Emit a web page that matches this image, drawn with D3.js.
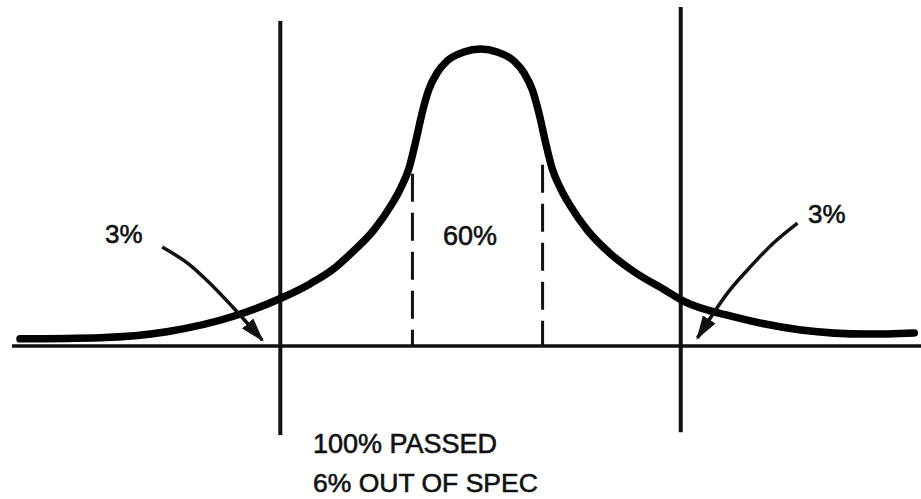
<!DOCTYPE html>
<html>
<head>
<meta charset="utf-8">
<script src="https://cdn.jsdelivr.net/npm/d3@7"></script>
<style>
  body { margin: 0; background: #fff; }
  text { font-family: "Liberation Sans", Arial, sans-serif; fill: #111; stroke: #111; stroke-width: 0.6px; }
</style>
</head>
<body>
<div id="chart"></div>
<script>
// distribution curve (x in sigma-like units, height relative to peak)
const curveX = [-6.9, -5.7, -4.7, -3.7, -3.0, -2.55, -2.2, -1.95, -1.6, -1.35, -1.2, -1.07, -0.97, -0.88, -0.78, -0.65, -0.5, -0.25, 0,
                0.25, 0.5, 0.65, 0.78, 0.88, 0.97, 1.07, 1.2, 1.35, 1.6, 1.95, 2.3, 2.75, 3.05, 3.8, 4.8, 5.8, 6.5];
const curveY = [0.024, 0.028, 0.048, 0.10, 0.16, 0.21, 0.26, 0.31, 0.39, 0.47, 0.53, 0.60, 0.69, 0.78, 0.86, 0.92, 0.96, 0.99, 1.0,
                0.99, 0.96, 0.92, 0.86, 0.78, 0.69, 0.60, 0.53, 0.47, 0.39, 0.31, 0.25, 0.19, 0.15, 0.098, 0.054, 0.04, 0.044];

// spec limits (solid) and the 60% band (dashed)
const specX = [-3.0, 3.0];
const specTop = [1.094, 1.141];
const specBottom = [-0.30, -0.29];
const bandX = [-1.02, 0.93];
const bandTop = [0.58, 0.61];
const baseRange = [-7.02, 6.6];

// arrows pointing at the tails
const leftArrowX = [-4.77, -4.39, -4.0, -3.70, -3.27];
const leftArrowY = [0.333, 0.279, 0.199, 0.128, 0.02];
const rightArrowX = [4.75, 4.39, 4.0, 3.70, 3.25];
const rightArrowY = [0.414, 0.347, 0.256, 0.178, 0.027];

const labels = ["3%", "60%", "3%", "100% PASSED", "6% OUT OF SPEC"];

let w = 921;
let h = 499;

let svg = d3.select("#chart")
    .append("svg")
    .attr("width", w)
    .attr("height", h);

let x = d3.scaleLinear().domain([-7.2, 6.6]).range([0, w]);
let y = d3.scaleLinear().domain([0, 1]).range([346, 49]);

svg.append("defs").append("marker")
    .attr("id", "head")
    .attr("markerUnits", "userSpaceOnUse")
    .attr("viewBox", "0 -8 24 16")
    .attr("refX", 22)
    .attr("refY", 0)
    .attr("markerWidth", 24)
    .attr("markerHeight", 16)
    .attr("orient", "auto")
    .append("path")
    .attr("d", "M0,-7.5L24,0L0,7.5Z")
    .attr("fill", "#111");

// baseline
svg.append("line")
    .attr("x1", x(baseRange[0])).attr("x2", x(baseRange[1]))
    .attr("y1", y(0)).attr("y2", y(0))
    .attr("stroke", "#111").attr("stroke-width", 3.5);

// spec limit lines
svg.selectAll(".spec")
    .data(specX)
    .enter()
    .append("line")
    .attr("class", "spec")
    .attr("x1", d => x(d)).attr("x2", d => x(d))
    .attr("y1", (d, i) => y(specTop[i]))
    .attr("y2", (d, i) => y(specBottom[i]))
    .attr("stroke", "#111").attr("stroke-width", 4);

// dashed band lines
svg.selectAll(".band")
    .data(bandX)
    .enter()
    .append("line")
    .attr("class", "band")
    .attr("x1", d => x(d)).attr("x2", d => x(d))
    .attr("y1", (d, i) => y(bandTop[i]))
    .attr("y2", y(0))
    .attr("stroke", "#111").attr("stroke-width", 3)
    .attr("stroke-dasharray", "28,11");

// the curve
let line = d3.line()
    .x(d => x(d[0]))
    .y(d => y(d[1]))
    .curve(d3.curveMonotoneX);

svg.append("path")
    .attr("d", line(d3.zip(curveX, curveY)))
    .attr("fill", "none")
    .attr("stroke", "#000")
    .attr("stroke-width", 7.5)
    .attr("stroke-linecap", "round");

// arrows
let arrowLine = d3.line()
    .x(d => x(d[0]))
    .y(d => y(d[1]))
    .curve(d3.curveCatmullRom);

[[leftArrowX, leftArrowY], [rightArrowX, rightArrowY]].forEach(a => {
    svg.append("path")
        .attr("d", arrowLine(d3.zip(a[0], a[1])))
        .attr("fill", "none")
        .attr("stroke", "#111")
        .attr("stroke-width", 3.5)
        .attr("marker-end", "url(#head)");
});

// labels
const labelPos = [[105, 243, 26], [443, 245, 27], [808, 223, 26], [313, 453, 27], [313, 492, 26.5]];
svg.selectAll(".lbl")
    .data(labels)
    .enter()
    .append("text")
    .attr("class", "lbl")
    .attr("x", (d, i) => labelPos[i][0])
    .attr("y", (d, i) => labelPos[i][1])
    .attr("font-size", (d, i) => labelPos[i][2])
    .text(d => d);
</script>
</body>
</html>
